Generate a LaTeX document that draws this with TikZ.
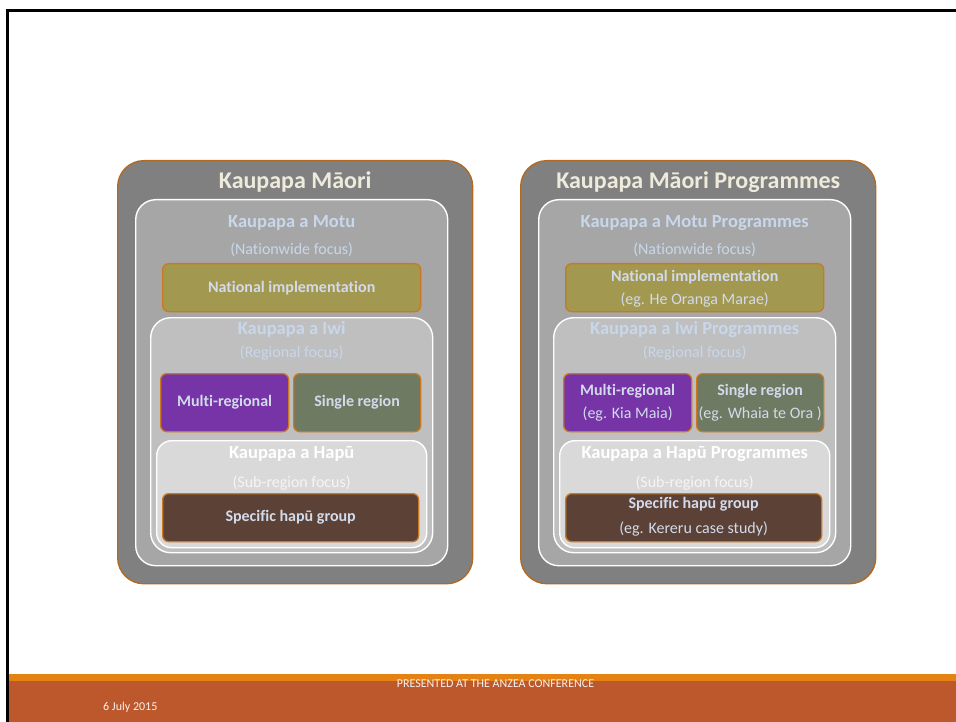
\documentclass[tikz,border=0pt]{standalone}
\usepackage{fontspec}
\setmainfont{Carlito}[Ligatures={NoCommon}]
\usepackage{xcolor}
\usepackage{tikz}
\usetikzlibrary{calc, positioning}
\definecolor{frame}{RGB}{178,106,34}
\definecolor{panelgray}{RGB}{128,128,128}
\definecolor{motugray}{RGB}{166,166,166}
\definecolor{iwigray}{RGB}{191,191,191}
\definecolor{hapugray}{RGB}{217,217,217}
\definecolor{unitedge}{RGB}{204,120,32}
\definecolor{national}{RGB}{163,152,80}
\definecolor{multi}{RGB}{118,52,166}
\definecolor{single}{RGB}{110,122,98}
\definecolor{hapugroup}{RGB}{92,66,54}
\definecolor{titletext}{RGB}{238,235,220}
\definecolor{headtext}{RGB}{200,215,234}
\definecolor{unittext}{RGB}{210,218,236}
\definecolor{footbar}{RGB}{189,88,44}
\definecolor{footline}{RGB}{228,130,20}
\tikzset{
    panelbox/.style = {draw=frame, line width=1.4pt, fill=panelgray, rounded corners=26pt, anchor=north west, inner sep=0pt},
    levelbox/.style = {draw=white, line width=1.4pt, rounded corners=20pt, anchor=north west, inner sep=0pt},
    unitbox/.style  = {draw=unitedge, line width=1.3pt, rounded corners=6pt, anchor=north west, inner sep=0pt},
    title/.style     = {text=titletext, font=\fontsize{24}{28}\selectfont\bfseries, inner sep=0pt},
    head/.style      = {text=headtext, font=\fontsize{18.5}{22}\selectfont\bfseries, inner sep=0pt},
    focus/.style     = {text=headtext, font=\fontsize{16}{19}\selectfont, inner sep=0pt},
    unitlabel/.style = {text=unittext, font=\fontsize{16}{19}\selectfont\bfseries, inner sep=0pt},
    unitnote/.style  = {text=unittext, font=\fontsize{16}{19}\selectfont, inner sep=0pt},
    footnote/.style  = {text=white!92!footbar, font=\fontsize{12}{14}\selectfont, inner sep=0pt},
    pics/panel/.style = {
        code = {%
        \node[panelbox, minimum width=355pt, minimum height=423pt] (-outer) at (0,0) {};
        \node[title] (-title) at ($(-outer.north)+(0,22)$) {Kaupapa Māori\ifnum#1=1\relax{} Programmes\fi};

        \node[levelbox, fill=motugray, minimum width=312pt, minimum height=366pt] (-motu) at (18,39) {};
        \node[head] (-motuhead) at ($(-motu.north)+(0,24)$) {Kaupapa a Motu\ifnum#1=1\relax{} Programmes\fi};
        \node[focus] (-motufocus) at ($(-motu.north)+(0,51)$) {(Nationwide focus)};
        \node[unitbox, fill=national, minimum width=258pt, minimum height=48pt] (-national) at (45,103) {};

        \node[levelbox, fill=iwigray, minimum width=282pt, minimum height=235pt] (-iwi) at (33,157) {};
        \node[head] (-iwihead) at ($(-iwi.north)+(0,12.5)$) {Kaupapa a Iwi\ifnum#1=1\relax{} Programmes\fi};
        \node[focus] (-iwifocus) at ($(-iwi.north)+(0,36)$) {(Regional focus)};
        \node[unitbox, fill=multi, minimum width=128pt, minimum height=58pt] (-multi) at (43,213) {};
        \node[unitbox, fill=single, minimum width=127pt, minimum height=58pt] (-single) at (176,213) {};

        \node[levelbox, fill=hapugray, rounded corners=15pt, minimum width=270pt, minimum height=107pt] (-hapu) at (39,280) {};
        \node[head, text=white] (-hapuhead) at ($(-hapu.north)+(0,14)$) {Kaupapa a Hapū\ifnum#1=1\relax{} Programmes\fi};
        \node[focus, text=white!96!black] (-hapufocus) at ($(-hapu.north)+(0,43)$) {(Sub-region focus)};
        \node[unitbox, fill=hapugroup, minimum width=256pt, minimum height=48pt] (-group) at (45,333) {};

        \ifnum#1=1\relax
            \node[unitlabel] (-nationallabel) at ($(-national.center)+(0,-11)$) {National implementation};
            \node[unitnote]  (-nationalnote)  at ($(-national.center)+(0,12)$) {(eg. He Oranga Marae)};
            \node[unitlabel] (-multilabel)    at ($(-multi.center)+(0,-11)$) {Multi-regional};
            \node[unitnote]  (-multinote)     at ($(-multi.center)+(0,11)$) {(eg. Kia Maia)};
            \node[unitlabel] (-singlelabel)   at ($(-single.center)+(0,-11)$) {Single region};
            \node[unitnote]  (-singlenote)    at ($(-single.center)+(0,11)$) {(eg. Whaia te Ora )};
            \node[unitlabel] (-grouplabel)    at ($(-group.center)+(0,-13)$) {Specific hapū group};
            \node[unitnote]  (-groupnote)     at ($(-group.center)+(0,11)$) {(eg. Kereru case study)};
        \else
            \node[unitlabel] (-nationallabel) at (-national.center) {National implementation};
            \node[unitlabel] (-multilabel)    at (-multi.center) {Multi-regional};
            \node[unitlabel] (-singlelabel)   at (-single.center) {Single region};
            \node[unitlabel] (-grouplabel)    at (-group.center) {Specific hapū group};
        \fi
        }
    },
    pics/panel/.default={0},
}

\begin{document}
\begin{tikzpicture}[x=1pt, y=-1pt]
\useasboundingbox (0,0) rectangle (956,722);
\fill[white] (0,0) rectangle (956,722);

\pic (left)  at (117,160) {panel};
\pic (right) at (520,160) {panel=1};

\fill[footline] (9,674) rectangle (956,681);
\fill[footbar]  (9,681) rectangle (956,722);
\draw[line width=3pt] (7.5,722) |- (956,11);
\node[footnote] (conference) at (495.5,684) {PRESENTED AT THE ANZEA CONFERENCE};
\node[footnote, anchor=west] (date) at (103,707) {6 July 2015};
\end{tikzpicture}
\end{document}
